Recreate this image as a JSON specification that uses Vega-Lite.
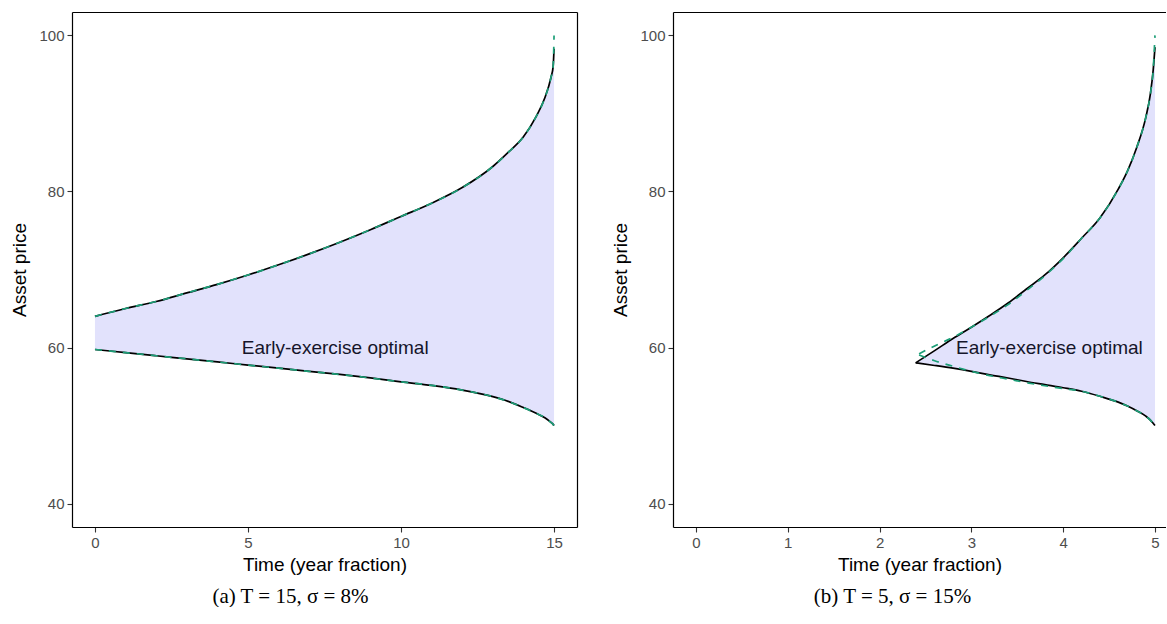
{
  "$schema": "https://vega.github.io/schema/vega-lite/v6.json",
  "padding": {"left": 10, "top": 12, "right": 0, "bottom": 0},
  "spacing": 34,
  "config": {
    "view": {"stroke": null},
    "font": "Liberation Sans",
    "axis": {"domainColor": "black", "domainWidth": 1.2, "tickColor": "#333333", "tickSize": 5, "tickWidth": 1.1, "labelColor": "#4D4D4D", "labelFontSize": 15, "labelPadding": 3, "titleFontSize": 19, "titleFontWeight": "normal", "titleColor": "black", "grid": false, "labelFont": "Liberation Sans", "titleFont": "Liberation Sans"},
    "axisY": {"titlePadding": 9},
    "axisX": {"titlePadding": 5},
    "title": {"font": "Liberation Serif", "fontSize": 21, "fontWeight": "normal", "color": "black"}
  },
  "datasets": {
    "regionA": [
      {"t": 0, "lo": 59.75, "hi": 64.0},
      {"t": 1, "lo": 59.35, "hi": 65.0},
      {"t": 2, "lo": 58.95, "hi": 65.9},
      {"t": 3, "lo": 58.55, "hi": 67.0},
      {"t": 4, "lo": 58.15, "hi": 68.1},
      {"t": 5, "lo": 57.75, "hi": 69.3},
      {"t": 6, "lo": 57.35, "hi": 70.6},
      {"t": 7, "lo": 56.95, "hi": 72.0},
      {"t": 8, "lo": 56.55, "hi": 73.5},
      {"t": 9, "lo": 56.1, "hi": 75.1},
      {"t": 10, "lo": 55.6, "hi": 76.8},
      {"t": 11, "lo": 55.15, "hi": 78.5},
      {"t": 12, "lo": 54.55, "hi": 80.5},
      {"t": 13, "lo": 53.7, "hi": 83.2},
      {"t": 13.5, "lo": 53.1, "hi": 85.0},
      {"t": 14, "lo": 52.3, "hi": 87.0},
      {"t": 14.4, "lo": 51.6, "hi": 89.5},
      {"t": 14.7, "lo": 51.0, "hi": 92.0},
      {"t": 14.9, "lo": 50.4, "hi": 94.6},
      {"t": 14.97, "lo": 50.15, "hi": 96.0},
      {"t": 15, "lo": 50.0, "hi": 98.3}
    ],
    "greenA": [
      {"t": 0, "v": 64.0, "curve": "upper"},
      {"t": 1, "v": 65.0, "curve": "upper"},
      {"t": 2, "v": 65.9, "curve": "upper"},
      {"t": 3, "v": 67.0, "curve": "upper"},
      {"t": 4, "v": 68.1, "curve": "upper"},
      {"t": 5, "v": 69.3, "curve": "upper"},
      {"t": 6, "v": 70.6, "curve": "upper"},
      {"t": 7, "v": 72.0, "curve": "upper"},
      {"t": 8, "v": 73.5, "curve": "upper"},
      {"t": 9, "v": 75.1, "curve": "upper"},
      {"t": 10, "v": 76.8, "curve": "upper"},
      {"t": 11, "v": 78.5, "curve": "upper"},
      {"t": 12, "v": 80.5, "curve": "upper"},
      {"t": 13, "v": 83.2, "curve": "upper"},
      {"t": 13.5, "v": 85.0, "curve": "upper"},
      {"t": 14, "v": 87.0, "curve": "upper"},
      {"t": 14.4, "v": 89.5, "curve": "upper"},
      {"t": 14.7, "v": 92.0, "curve": "upper"},
      {"t": 14.9, "v": 94.6, "curve": "upper"},
      {"t": 14.97, "v": 96.0, "curve": "upper"},
      {"t": 15, "v": 100.0, "curve": "upper"},
      {"t": 0, "v": 59.75, "curve": "lower"},
      {"t": 1, "v": 59.35, "curve": "lower"},
      {"t": 2, "v": 58.95, "curve": "lower"},
      {"t": 3, "v": 58.55, "curve": "lower"},
      {"t": 4, "v": 58.15, "curve": "lower"},
      {"t": 5, "v": 57.75, "curve": "lower"},
      {"t": 6, "v": 57.35, "curve": "lower"},
      {"t": 7, "v": 56.95, "curve": "lower"},
      {"t": 8, "v": 56.55, "curve": "lower"},
      {"t": 9, "v": 56.1, "curve": "lower"},
      {"t": 10, "v": 55.6, "curve": "lower"},
      {"t": 11, "v": 55.15, "curve": "lower"},
      {"t": 12, "v": 54.55, "curve": "lower"},
      {"t": 13, "v": 53.7, "curve": "lower"},
      {"t": 13.5, "v": 53.1, "curve": "lower"},
      {"t": 14, "v": 52.3, "curve": "lower"},
      {"t": 14.4, "v": 51.6, "curve": "lower"},
      {"t": 14.7, "v": 51.0, "curve": "lower"},
      {"t": 14.9, "v": 50.4, "curve": "lower"},
      {"t": 14.97, "v": 50.15, "curve": "lower"},
      {"t": 15, "v": 50.0, "curve": "lower"}
    ],
    "regionB": [
      {"t": 2.393, "lo": 58.04, "hi": 58.04},
      {"t": 2.6, "lo": 57.7, "hi": 59.6},
      {"t": 2.8, "lo": 57.35, "hi": 61.15},
      {"t": 3.0, "lo": 56.95, "hi": 62.6},
      {"t": 3.2, "lo": 56.5, "hi": 64.1},
      {"t": 3.4, "lo": 56.1, "hi": 65.7},
      {"t": 3.6, "lo": 55.65, "hi": 67.5},
      {"t": 3.8, "lo": 55.25, "hi": 69.3},
      {"t": 4.0, "lo": 54.85, "hi": 71.5},
      {"t": 4.2, "lo": 54.4, "hi": 74.0},
      {"t": 4.4, "lo": 53.75, "hi": 76.6},
      {"t": 4.6, "lo": 53.0, "hi": 80.3},
      {"t": 4.7, "lo": 52.5, "hi": 82.6},
      {"t": 4.8, "lo": 51.9, "hi": 85.6},
      {"t": 4.9, "lo": 51.2, "hi": 89.5},
      {"t": 4.95, "lo": 50.7, "hi": 92.5},
      {"t": 4.98, "lo": 50.3, "hi": 95.5},
      {"t": 5.0, "lo": 50.0, "hi": 98.5}
    ],
    "greenB": [
      {"t": 2.43, "v": 59.2, "curve": "upper"},
      {"t": 2.6, "v": 60.2, "curve": "upper"},
      {"t": 2.8, "v": 61.3, "curve": "upper"},
      {"t": 3.0, "v": 62.6, "curve": "upper"},
      {"t": 3.2, "v": 64.0, "curve": "upper"},
      {"t": 3.4, "v": 65.5, "curve": "upper"},
      {"t": 3.6, "v": 67.3, "curve": "upper"},
      {"t": 3.8, "v": 69.2, "curve": "upper"},
      {"t": 4.0, "v": 71.4, "curve": "upper"},
      {"t": 4.2, "v": 74.0, "curve": "upper"},
      {"t": 4.4, "v": 76.6, "curve": "upper"},
      {"t": 4.6, "v": 80.3, "curve": "upper"},
      {"t": 4.7, "v": 82.6, "curve": "upper"},
      {"t": 4.8, "v": 85.6, "curve": "upper"},
      {"t": 4.9, "v": 89.5, "curve": "upper"},
      {"t": 4.95, "v": 92.5, "curve": "upper"},
      {"t": 4.98, "v": 95.5, "curve": "upper"},
      {"t": 5.0, "v": 100.0, "curve": "upper"},
      {"t": 2.43, "v": 59.05, "curve": "lower"},
      {"t": 2.6, "v": 58.3, "curve": "lower"},
      {"t": 2.8, "v": 57.6, "curve": "lower"},
      {"t": 3.0, "v": 56.95, "curve": "lower"},
      {"t": 3.2, "v": 56.4, "curve": "lower"},
      {"t": 3.4, "v": 55.95, "curve": "lower"},
      {"t": 3.6, "v": 55.5, "curve": "lower"},
      {"t": 3.8, "v": 55.1, "curve": "lower"},
      {"t": 4.0, "v": 54.75, "curve": "lower"},
      {"t": 4.2, "v": 54.4, "curve": "lower"},
      {"t": 4.4, "v": 53.75, "curve": "lower"},
      {"t": 4.6, "v": 53.0, "curve": "lower"},
      {"t": 4.7, "v": 52.5, "curve": "lower"},
      {"t": 4.8, "v": 51.9, "curve": "lower"},
      {"t": 4.9, "v": 51.2, "curve": "lower"},
      {"t": 4.95, "v": 50.7, "curve": "lower"},
      {"t": 4.98, "v": 50.3, "curve": "lower"},
      {"t": 5.0, "v": 50.0, "curve": "lower"}
    ],
    "labels": [
      {"panel": "a", "t": 7.85, "v": 60, "label": "Early-exercise optimal"},
      {"panel": "b", "t": 3.85, "v": 60, "label": "Early-exercise optimal"}
    ]
  },
  "hconcat": [
    {
      "width": 505,
      "height": 515,
      "title": {"text": "(a)  T = 15, σ = 8%", "orient": "bottom", "offset": 12, "dx": -34, "frame": "group", "anchor": "middle"},
      "resolve": {"axis": {"x": "independent", "y": "independent"}},
      "layer": [
        {
          "data": {"name": "regionA"},
          "mark": {"type": "area", "color": "#E2E2FC", "opacity": 1, "interpolate": "monotone"},
          "encoding": {
            "x": {"field": "t", "type": "quantitative", "scale": {"domain": [-0.75, 15.75], "nice": false, "zero": false}, "axis": {"values": [0, 5, 10, 15], "title": "Time (year fraction)"}},
            "y": {"field": "lo", "type": "quantitative", "scale": {"domain": [37, 103], "nice": false, "zero": false}, "axis": {"values": [40, 60, 80, 100], "title": "Asset price"}},
            "y2": {"field": "hi"}
          }
        },
        {
          "data": {"name": "regionA"},
          "mark": {"type": "line", "color": "black", "strokeWidth": 1.7, "interpolate": "monotone"},
          "encoding": {
            "x": {"field": "t", "type": "quantitative", "axis": null},
            "y": {"field": "hi", "type": "quantitative", "axis": null}
          }
        },
        {
          "data": {"name": "regionA"},
          "mark": {"type": "line", "color": "black", "strokeWidth": 1.7, "interpolate": "monotone"},
          "encoding": {
            "x": {"field": "t", "type": "quantitative", "axis": null},
            "y": {"field": "lo", "type": "quantitative", "axis": null}
          }
        },
        {
          "data": {"name": "greenA"},
          "mark": {"type": "line", "color": "#1B9E77", "strokeWidth": 1.7, "strokeDash": [7, 7], "interpolate": "monotone"},
          "encoding": {
            "x": {"field": "t", "type": "quantitative", "axis": null},
            "y": {"field": "v", "type": "quantitative", "axis": null},
            "detail": {"field": "curve"}
          }
        },
        {
          "data": {"name": "labels"},
          "transform": [{"filter": "datum.panel === 'a'"}],
          "mark": {"type": "text", "fontSize": 19, "color": "#15152A", "font": "Liberation Sans"},
          "encoding": {
            "x": {"field": "t", "type": "quantitative", "axis": null},
            "y": {"field": "v", "type": "quantitative", "axis": null},
            "text": {"field": "label"}
          }
        },
        {
          "data": {"name": "regionA"},
          "mark": {"type": "point", "opacity": 0},
          "encoding": {
            "x": {"field": "t", "type": "quantitative", "axis": {"orient": "top", "labels": false, "ticks": false, "title": null}},
            "y": {"field": "lo", "type": "quantitative", "axis": {"orient": "right", "labels": false, "ticks": false, "title": null}}
          }
        }
      ]
    },
    {
      "width": 493,
      "height": 515,
      "title": {"text": "(b)  T = 5, σ = 15%", "orient": "bottom", "offset": 12, "dx": -27, "frame": "group", "anchor": "middle"},
      "resolve": {"axis": {"x": "independent", "y": "independent"}},
      "layer": [
        {
          "data": {"name": "regionB"},
          "mark": {"type": "area", "color": "#E2E2FC", "opacity": 1, "interpolate": "monotone"},
          "encoding": {
            "x": {"field": "t", "type": "quantitative", "scale": {"domain": [-0.25, 5.12], "nice": false, "zero": false}, "axis": {"values": [0, 1, 2, 3, 4, 5], "title": "Time (year fraction)"}},
            "y": {"field": "lo", "type": "quantitative", "scale": {"domain": [37, 103], "nice": false, "zero": false}, "axis": {"values": [40, 60, 80, 100], "title": "Asset price"}},
            "y2": {"field": "hi"}
          }
        },
        {
          "data": {"name": "regionB"},
          "mark": {"type": "line", "color": "black", "strokeWidth": 1.7, "interpolate": "monotone"},
          "encoding": {
            "x": {"field": "t", "type": "quantitative", "axis": null},
            "y": {"field": "hi", "type": "quantitative", "axis": null}
          }
        },
        {
          "data": {"name": "regionB"},
          "mark": {"type": "line", "color": "black", "strokeWidth": 1.7, "interpolate": "monotone"},
          "encoding": {
            "x": {"field": "t", "type": "quantitative", "axis": null},
            "y": {"field": "lo", "type": "quantitative", "axis": null}
          }
        },
        {
          "data": {"name": "greenB"},
          "mark": {"type": "line", "color": "#1B9E77", "strokeWidth": 1.7, "strokeDash": [7, 7], "interpolate": "monotone"},
          "encoding": {
            "x": {"field": "t", "type": "quantitative", "axis": null},
            "y": {"field": "v", "type": "quantitative", "axis": null},
            "detail": {"field": "curve"}
          }
        },
        {
          "data": {"name": "labels"},
          "transform": [{"filter": "datum.panel === 'b'"}],
          "mark": {"type": "text", "fontSize": 19, "color": "#15152A", "font": "Liberation Sans"},
          "encoding": {
            "x": {"field": "t", "type": "quantitative", "axis": null},
            "y": {"field": "v", "type": "quantitative", "axis": null},
            "text": {"field": "label"}
          }
        },
        {
          "data": {"name": "regionB"},
          "mark": {"type": "point", "opacity": 0},
          "encoding": {
            "x": {"field": "t", "type": "quantitative", "axis": {"orient": "top", "labels": false, "ticks": false, "title": null}},
            "y": {"field": "lo", "type": "quantitative", "axis": null}
          }
        }
      ]
    }
  ]
}
